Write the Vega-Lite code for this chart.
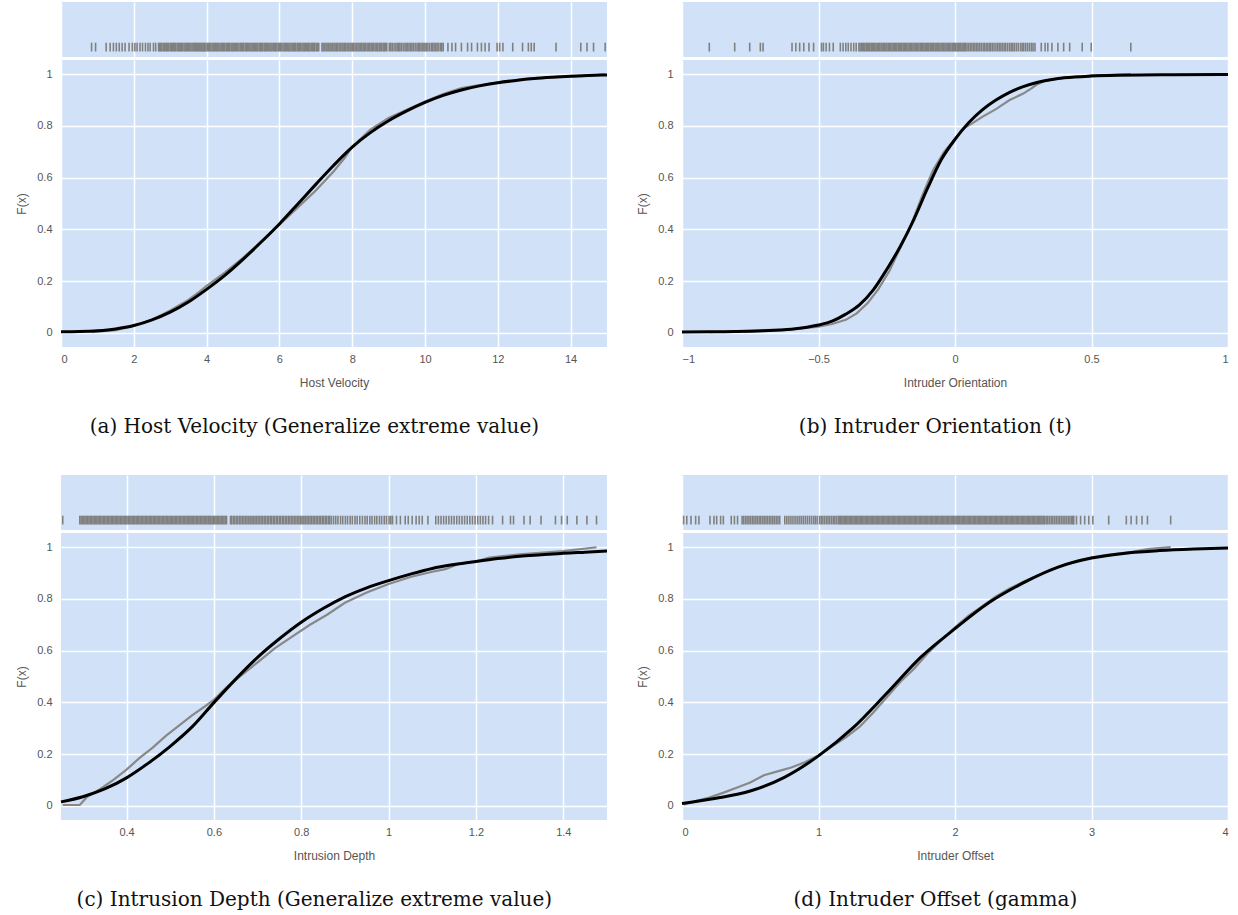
{
  "$schema": "https://vega.github.io/schema/vega-lite/v6.json",
  "background": "#ffffff",
  "padding": {"left": 15, "top": 2, "right": 5, "bottom": 2},
  "spacing": 38,
  "config": {
    "view": {"fill": "#D1E2F8", "stroke": null},
    "concat": {"spacing": 23},
    "axis": {"grid": true, "gridColor": "#ffffff", "gridWidth": 1.5, "domain": false, "ticks": false, "labelPadding": 9, "format": "~g", "labelFont": "Liberation Sans", "labelFontSize": 11, "labelColor": "#555555", "titleFont": "Liberation Sans", "titleFontSize": 12, "titleFontWeight": "normal", "titleColor": "#555555"},
    "axisX": {"labelPadding": 6},
    "title": {"font": "DejaVu Serif", "fontSize": 20, "fontWeight": "normal", "color": "#111111", "orient": "bottom", "offset": 29, "anchor": "middle"}
  },
  "datasets": {
    "rug": [
      {"p":"a","x":0.84},{"p":"a","x":0.95},{"p":"a","x":1.24},{"p":"a","x":1.35},{"p":"a","x":1.44},{"p":"a","x":1.52},{"p":"a","x":1.6},{"p":"a","x":1.68},{"p":"a","x":1.76},{"p":"a","x":1.87},{"p":"a","x":1.96},{"p":"a","x":2.03},{"p":"a","x":2.09},{"p":"a","x":2.17},{"p":"a","x":2.24},{"p":"a","x":2.32},{"p":"a","x":2.39},{"p":"a","x":2.45},{"p":"a","x":2.54},{"p":"a","x":2.6},
      {"p":"a","x":2.68},{"p":"a","x":2.74},{"p":"a","x":2.81},{"p":"a","x":2.88},{"p":"a","x":2.93},{"p":"a","x":3.0},{"p":"a","x":3.06},{"p":"a","x":3.12},{"p":"a","x":3.19},{"p":"a","x":3.25},{"p":"a","x":3.31},{"p":"a","x":3.38},{"p":"a","x":3.44},{"p":"a","x":3.5},{"p":"a","x":3.57},{"p":"a","x":3.63},{"p":"a","x":3.69},{"p":"a","x":3.75},{"p":"a","x":3.81},{"p":"a","x":3.87},
      {"p":"a","x":2.71},{"p":"a","x":2.77},{"p":"a","x":2.84},{"p":"a","x":2.9},{"p":"a","x":2.96},{"p":"a","x":3.03},{"p":"a","x":3.09},{"p":"a","x":3.15},{"p":"a","x":3.22},{"p":"a","x":3.28},{"p":"a","x":3.34},{"p":"a","x":3.41},{"p":"a","x":3.47},{"p":"a","x":3.53},{"p":"a","x":3.6},{"p":"a","x":3.66},{"p":"a","x":3.72},{"p":"a","x":3.78},{"p":"a","x":3.84},{"p":"a","x":3.9},
      {"p":"a","x":3.92},{"p":"a","x":3.98},{"p":"a","x":4.05},{"p":"a","x":4.11},{"p":"a","x":4.18},{"p":"a","x":4.24},{"p":"a","x":4.31},{"p":"a","x":4.37},{"p":"a","x":4.44},{"p":"a","x":4.5},{"p":"a","x":4.57},{"p":"a","x":4.63},{"p":"a","x":4.7},{"p":"a","x":4.76},{"p":"a","x":4.83},{"p":"a","x":4.89},{"p":"a","x":4.96},{"p":"a","x":5.02},{"p":"a","x":5.09},{"p":"a","x":5.15},{"p":"a","x":5.22},{"p":"a","x":5.28},{"p":"a","x":5.35},{"p":"a","x":5.41},{"p":"a","x":5.48},{"p":"a","x":5.54},{"p":"a","x":5.61},{"p":"a","x":5.67},{"p":"a","x":5.74},{"p":"a","x":5.8},{"p":"a","x":5.87},{"p":"a","x":5.93},{"p":"a","x":6.0},{"p":"a","x":6.06},{"p":"a","x":6.13},{"p":"a","x":6.19},{"p":"a","x":6.26},{"p":"a","x":6.32},{"p":"a","x":6.39},{"p":"a","x":6.45},{"p":"a","x":6.52},{"p":"a","x":6.58},{"p":"a","x":6.65},{"p":"a","x":6.71},{"p":"a","x":6.78},{"p":"a","x":6.84},{"p":"a","x":6.91},{"p":"a","x":6.97},{"p":"a","x":7.04},{"p":"a","x":7.08},
      {"p":"a","x":3.95},{"p":"a","x":4.02},{"p":"a","x":4.08},{"p":"a","x":4.15},{"p":"a","x":4.21},{"p":"a","x":4.28},{"p":"a","x":4.34},{"p":"a","x":4.41},{"p":"a","x":4.47},{"p":"a","x":4.54},{"p":"a","x":4.6},{"p":"a","x":4.67},{"p":"a","x":4.73},{"p":"a","x":4.8},{"p":"a","x":4.86},{"p":"a","x":4.93},{"p":"a","x":4.99},{"p":"a","x":5.06},{"p":"a","x":5.12},{"p":"a","x":5.19},{"p":"a","x":5.25},{"p":"a","x":5.32},{"p":"a","x":5.38},{"p":"a","x":5.45},{"p":"a","x":5.51},{"p":"a","x":5.58},{"p":"a","x":5.64},{"p":"a","x":5.71},{"p":"a","x":5.77},{"p":"a","x":5.84},{"p":"a","x":5.9},{"p":"a","x":5.97},{"p":"a","x":6.03},{"p":"a","x":6.1},{"p":"a","x":6.16},{"p":"a","x":6.23},{"p":"a","x":6.29},{"p":"a","x":6.36},{"p":"a","x":6.42},{"p":"a","x":6.49},{"p":"a","x":6.55},{"p":"a","x":6.62},{"p":"a","x":6.68},{"p":"a","x":6.75},{"p":"a","x":6.81},{"p":"a","x":6.88},{"p":"a","x":6.94},{"p":"a","x":7.01},
      {"p":"a","x":7.17},{"p":"a","x":7.24},{"p":"a","x":7.31},{"p":"a","x":7.39},{"p":"a","x":7.46},{"p":"a","x":7.53},{"p":"a","x":7.6},{"p":"a","x":7.68},{"p":"a","x":7.75},{"p":"a","x":7.82},{"p":"a","x":7.9},{"p":"a","x":7.97},{"p":"a","x":8.04},{"p":"a","x":8.12},{"p":"a","x":8.19},{"p":"a","x":8.26},{"p":"a","x":8.33},{"p":"a","x":8.41},{"p":"a","x":8.48},{"p":"a","x":8.55},{"p":"a","x":8.63},{"p":"a","x":8.7},{"p":"a","x":8.77},{"p":"a","x":8.85},{"p":"a","x":8.91},{"p":"a","x":8.95},
      {"p":"a","x":7.2},{"p":"a","x":7.28},{"p":"a","x":7.35},{"p":"a","x":7.42},{"p":"a","x":7.5},{"p":"a","x":7.57},{"p":"a","x":7.64},{"p":"a","x":7.72},{"p":"a","x":7.79},{"p":"a","x":7.86},{"p":"a","x":7.94},{"p":"a","x":8.01},{"p":"a","x":8.08},{"p":"a","x":8.16},{"p":"a","x":8.23},{"p":"a","x":8.3},{"p":"a","x":8.37},{"p":"a","x":8.45},{"p":"a","x":8.52},{"p":"a","x":8.59},{"p":"a","x":8.67},{"p":"a","x":8.74},{"p":"a","x":8.81},{"p":"a","x":8.88},
      {"p":"a","x":9.02},{"p":"a","x":9.1},{"p":"a","x":9.2},{"p":"a","x":9.28},{"p":"a","x":9.35},{"p":"a","x":9.45},{"p":"a","x":9.52},{"p":"a","x":9.6},{"p":"a","x":9.68},{"p":"a","x":9.78},{"p":"a","x":9.85},{"p":"a","x":9.93},{"p":"a","x":10.0},{"p":"a","x":10.08},{"p":"a","x":10.18},{"p":"a","x":10.25},{"p":"a","x":10.33},{"p":"a","x":10.42},{"p":"a","x":10.5},
      {"p":"a","x":9.06},{"p":"a","x":9.15},{"p":"a","x":9.24},{"p":"a","x":9.31},{"p":"a","x":9.4},{"p":"a","x":9.48},{"p":"a","x":9.56},{"p":"a","x":9.64},{"p":"a","x":9.73},{"p":"a","x":9.82},{"p":"a","x":9.89},{"p":"a","x":9.97},{"p":"a","x":10.04},{"p":"a","x":10.13},{"p":"a","x":10.21},{"p":"a","x":10.29},{"p":"a","x":10.37},{"p":"a","x":10.46},
      {"p":"a","x":10.63},{"p":"a","x":10.74},{"p":"a","x":10.84},{"p":"a","x":11.0},{"p":"a","x":11.17},{"p":"a","x":11.28},{"p":"a","x":11.44},{"p":"a","x":11.55},{"p":"a","x":11.65},{"p":"a","x":11.76},{"p":"a","x":11.98},{"p":"a","x":12.05},{"p":"a","x":12.14},{"p":"a","x":12.41},{"p":"a","x":12.68},{"p":"a","x":12.84},{"p":"a","x":12.92},{"p":"a","x":13.0},{"p":"a","x":13.6},{"p":"a","x":14.28},{"p":"a","x":14.45},{"p":"a","x":14.63},{"p":"a","x":14.95},

      {"p":"b","x":-0.9},{"p":"b","x":-0.807},{"p":"b","x":-0.752},{"p":"b","x":-0.713},{"p":"b","x":-0.703},{"p":"b","x":-0.597},{"p":"b","x":-0.583},{"p":"b","x":-0.569},{"p":"b","x":-0.554},{"p":"b","x":-0.535},{"p":"b","x":-0.518},{"p":"b","x":-0.489},{"p":"b","x":-0.482},{"p":"b","x":-0.472},{"p":"b","x":-0.46},{"p":"b","x":-0.446},{"p":"b","x":-0.42},{"p":"b","x":-0.41},{"p":"b","x":-0.4},{"p":"b","x":-0.391},{"p":"b","x":-0.381},{"p":"b","x":-0.371},{"p":"b","x":-0.362},
      {"p":"b","x":-0.352},{"p":"b","x":-0.343},{"p":"b","x":-0.334},{"p":"b","x":-0.325},{"p":"b","x":-0.316},{"p":"b","x":-0.307},{"p":"b","x":-0.298},{"p":"b","x":-0.289},{"p":"b","x":-0.28},{"p":"b","x":-0.271},{"p":"b","x":-0.262},{"p":"b","x":-0.253},{"p":"b","x":-0.244},{"p":"b","x":-0.235},{"p":"b","x":-0.226},{"p":"b","x":-0.217},{"p":"b","x":-0.208},{"p":"b","x":-0.199},{"p":"b","x":-0.19},{"p":"b","x":-0.181},{"p":"b","x":-0.172},{"p":"b","x":-0.163},{"p":"b","x":-0.154},{"p":"b","x":-0.145},{"p":"b","x":-0.136},{"p":"b","x":-0.127},{"p":"b","x":-0.118},{"p":"b","x":-0.109},{"p":"b","x":-0.1},{"p":"b","x":-0.091},{"p":"b","x":-0.082},{"p":"b","x":-0.073},{"p":"b","x":-0.064},{"p":"b","x":-0.055},{"p":"b","x":-0.046},{"p":"b","x":-0.037},{"p":"b","x":-0.028},{"p":"b","x":-0.019},{"p":"b","x":-0.01},{"p":"b","x":-0.001},{"p":"b","x":0.008},{"p":"b","x":0.017},{"p":"b","x":0.026},{"p":"b","x":0.035},{"p":"b","x":0.044},
      {"p":"b","x":-0.348},{"p":"b","x":-0.339},{"p":"b","x":-0.33},{"p":"b","x":-0.321},{"p":"b","x":-0.312},{"p":"b","x":-0.303},{"p":"b","x":-0.294},{"p":"b","x":-0.285},{"p":"b","x":-0.276},{"p":"b","x":-0.267},{"p":"b","x":-0.258},{"p":"b","x":-0.249},{"p":"b","x":-0.24},{"p":"b","x":-0.231},{"p":"b","x":-0.222},{"p":"b","x":-0.213},{"p":"b","x":-0.204},{"p":"b","x":-0.195},{"p":"b","x":-0.186},{"p":"b","x":-0.177},{"p":"b","x":-0.168},{"p":"b","x":-0.159},{"p":"b","x":-0.15},{"p":"b","x":-0.141},{"p":"b","x":-0.132},{"p":"b","x":-0.123},{"p":"b","x":-0.114},{"p":"b","x":-0.105},{"p":"b","x":-0.096},{"p":"b","x":-0.087},{"p":"b","x":-0.078},{"p":"b","x":-0.069},{"p":"b","x":-0.06},{"p":"b","x":-0.051},{"p":"b","x":-0.042},{"p":"b","x":-0.033},{"p":"b","x":-0.024},{"p":"b","x":-0.015},{"p":"b","x":-0.006},{"p":"b","x":0.003},{"p":"b","x":0.012},{"p":"b","x":0.021},{"p":"b","x":0.03},{"p":"b","x":0.039},
      {"p":"b","x":0.05},{"p":"b","x":0.056},{"p":"b","x":0.062},{"p":"b","x":0.068},{"p":"b","x":0.073},{"p":"b","x":0.079},{"p":"b","x":0.084},{"p":"b","x":0.09},{"p":"b","x":0.096},{"p":"b","x":0.103},{"p":"b","x":0.108},{"p":"b","x":0.114},{"p":"b","x":0.12},{"p":"b","x":0.126},{"p":"b","x":0.131},{"p":"b","x":0.137},{"p":"b","x":0.143},{"p":"b","x":0.15},{"p":"b","x":0.156},{"p":"b","x":0.162},{"p":"b","x":0.168},{"p":"b","x":0.174},
      {"p":"b","x":0.18},{"p":"b","x":0.186},{"p":"b","x":0.193},{"p":"b","x":0.2},{"p":"b","x":0.206},{"p":"b","x":0.212},{"p":"b","x":0.218},{"p":"b","x":0.225},{"p":"b","x":0.232},{"p":"b","x":0.24},{"p":"b","x":0.246},{"p":"b","x":0.252},{"p":"b","x":0.259},{"p":"b","x":0.266},{"p":"b","x":0.273},{"p":"b","x":0.28},{"p":"b","x":0.286},{"p":"b","x":0.293},
      {"p":"b","x":0.316},{"p":"b","x":0.33},{"p":"b","x":0.34},{"p":"b","x":0.355},{"p":"b","x":0.377},{"p":"b","x":0.398},{"p":"b","x":0.42},{"p":"b","x":0.466},{"p":"b","x":0.499},{"p":"b","x":0.644},

      {"p":"c","x":0.254},
      {"p":"c","x":0.293},{"p":"c","x":0.299},{"p":"c","x":0.305},{"p":"c","x":0.311},{"p":"c","x":0.317},{"p":"c","x":0.323},{"p":"c","x":0.329},{"p":"c","x":0.335},{"p":"c","x":0.341},{"p":"c","x":0.347},{"p":"c","x":0.353},{"p":"c","x":0.359},{"p":"c","x":0.365},{"p":"c","x":0.371},{"p":"c","x":0.377},{"p":"c","x":0.383},{"p":"c","x":0.389},{"p":"c","x":0.395},{"p":"c","x":0.401},{"p":"c","x":0.407},{"p":"c","x":0.413},{"p":"c","x":0.419},{"p":"c","x":0.425},{"p":"c","x":0.431},{"p":"c","x":0.437},{"p":"c","x":0.443},{"p":"c","x":0.449},{"p":"c","x":0.455},{"p":"c","x":0.461},{"p":"c","x":0.467},{"p":"c","x":0.473},{"p":"c","x":0.479},{"p":"c","x":0.485},{"p":"c","x":0.491},{"p":"c","x":0.497},{"p":"c","x":0.503},{"p":"c","x":0.509},{"p":"c","x":0.515},{"p":"c","x":0.521},{"p":"c","x":0.527},{"p":"c","x":0.533},{"p":"c","x":0.539},{"p":"c","x":0.545},{"p":"c","x":0.551},{"p":"c","x":0.557},{"p":"c","x":0.563},{"p":"c","x":0.569},{"p":"c","x":0.575},{"p":"c","x":0.581},{"p":"c","x":0.587},{"p":"c","x":0.593},{"p":"c","x":0.599},{"p":"c","x":0.605},{"p":"c","x":0.611},{"p":"c","x":0.617},{"p":"c","x":0.623},{"p":"c","x":0.629},
      {"p":"c","x":0.296},{"p":"c","x":0.302},{"p":"c","x":0.308},{"p":"c","x":0.314},{"p":"c","x":0.32},{"p":"c","x":0.326},{"p":"c","x":0.332},{"p":"c","x":0.338},{"p":"c","x":0.344},{"p":"c","x":0.35},{"p":"c","x":0.356},{"p":"c","x":0.362},{"p":"c","x":0.368},{"p":"c","x":0.374},{"p":"c","x":0.38},{"p":"c","x":0.386},{"p":"c","x":0.392},{"p":"c","x":0.398},{"p":"c","x":0.404},{"p":"c","x":0.41},{"p":"c","x":0.416},{"p":"c","x":0.422},{"p":"c","x":0.428},{"p":"c","x":0.434},{"p":"c","x":0.44},{"p":"c","x":0.446},{"p":"c","x":0.452},{"p":"c","x":0.458},{"p":"c","x":0.464},{"p":"c","x":0.47},{"p":"c","x":0.476},{"p":"c","x":0.482},{"p":"c","x":0.488},{"p":"c","x":0.494},{"p":"c","x":0.5},{"p":"c","x":0.506},{"p":"c","x":0.512},{"p":"c","x":0.518},{"p":"c","x":0.524},{"p":"c","x":0.53},{"p":"c","x":0.536},{"p":"c","x":0.542},{"p":"c","x":0.548},{"p":"c","x":0.554},{"p":"c","x":0.56},{"p":"c","x":0.566},{"p":"c","x":0.572},{"p":"c","x":0.578},{"p":"c","x":0.584},{"p":"c","x":0.59},{"p":"c","x":0.596},{"p":"c","x":0.602},{"p":"c","x":0.608},{"p":"c","x":0.614},{"p":"c","x":0.62},{"p":"c","x":0.626},
      {"p":"c","x":0.638},{"p":"c","x":0.645},{"p":"c","x":0.652},{"p":"c","x":0.659},{"p":"c","x":0.666},{"p":"c","x":0.673},{"p":"c","x":0.68},{"p":"c","x":0.687},{"p":"c","x":0.694},{"p":"c","x":0.701},{"p":"c","x":0.708},{"p":"c","x":0.715},{"p":"c","x":0.722},{"p":"c","x":0.729},{"p":"c","x":0.736},{"p":"c","x":0.743},{"p":"c","x":0.75},{"p":"c","x":0.757},{"p":"c","x":0.764},{"p":"c","x":0.771},{"p":"c","x":0.778},{"p":"c","x":0.785},{"p":"c","x":0.792},{"p":"c","x":0.799},{"p":"c","x":0.806},{"p":"c","x":0.813},{"p":"c","x":0.82},{"p":"c","x":0.827},{"p":"c","x":0.834},{"p":"c","x":0.841},{"p":"c","x":0.848},{"p":"c","x":0.855},{"p":"c","x":0.862},{"p":"c","x":0.869},
      {"p":"c","x":0.641},{"p":"c","x":0.648},{"p":"c","x":0.655},{"p":"c","x":0.662},{"p":"c","x":0.669},{"p":"c","x":0.676},{"p":"c","x":0.683},{"p":"c","x":0.69},{"p":"c","x":0.697},{"p":"c","x":0.704},{"p":"c","x":0.711},{"p":"c","x":0.718},{"p":"c","x":0.725},{"p":"c","x":0.732},{"p":"c","x":0.739},{"p":"c","x":0.746},{"p":"c","x":0.753},{"p":"c","x":0.76},{"p":"c","x":0.767},{"p":"c","x":0.774},{"p":"c","x":0.781},{"p":"c","x":0.788},{"p":"c","x":0.795},{"p":"c","x":0.802},{"p":"c","x":0.809},{"p":"c","x":0.816},{"p":"c","x":0.823},{"p":"c","x":0.83},{"p":"c","x":0.837},{"p":"c","x":0.844},{"p":"c","x":0.851},{"p":"c","x":0.858},{"p":"c","x":0.865},{"p":"c","x":0.874},
      {"p":"c","x":0.879},{"p":"c","x":0.89},{"p":"c","x":0.901},{"p":"c","x":0.912},{"p":"c","x":0.923},{"p":"c","x":0.934},{"p":"c","x":0.946},{"p":"c","x":0.957},{"p":"c","x":0.968},{"p":"c","x":0.979},{"p":"c","x":0.99},{"p":"c","x":1.001},{"p":"c","x":1.009},
      {"p":"c","x":0.884},{"p":"c","x":0.895},{"p":"c","x":0.906},{"p":"c","x":0.917},{"p":"c","x":0.928},{"p":"c","x":0.94},{"p":"c","x":0.951},{"p":"c","x":0.962},{"p":"c","x":0.973},{"p":"c","x":0.984},{"p":"c","x":0.995},{"p":"c","x":1.005},
      {"p":"c","x":1.018},{"p":"c","x":1.027},{"p":"c","x":1.038},{"p":"c","x":1.045},{"p":"c","x":1.054},{"p":"c","x":1.063},{"p":"c","x":1.07},{"p":"c","x":1.077},{"p":"c","x":1.09},
      {"p":"c","x":1.108},{"p":"c","x":1.12},{"p":"c","x":1.132},{"p":"c","x":1.144},{"p":"c","x":1.156},{"p":"c","x":1.168},{"p":"c","x":1.18},{"p":"c","x":1.192},{"p":"c","x":1.204},{"p":"c","x":1.216},{"p":"c","x":1.229},
      {"p":"c","x":1.114},{"p":"c","x":1.126},{"p":"c","x":1.138},{"p":"c","x":1.15},{"p":"c","x":1.162},{"p":"c","x":1.174},{"p":"c","x":1.186},{"p":"c","x":1.198},{"p":"c","x":1.21},{"p":"c","x":1.222},
      {"p":"c","x":1.238},{"p":"c","x":1.261},{"p":"c","x":1.279},{"p":"c","x":1.286},{"p":"c","x":1.31},{"p":"c","x":1.324},{"p":"c","x":1.349},{"p":"c","x":1.382},{"p":"c","x":1.396},{"p":"c","x":1.409},{"p":"c","x":1.431},{"p":"c","x":1.454},{"p":"c","x":1.476},

      {"p":"d","x":0.012},{"p":"d","x":0.035},{"p":"d","x":0.066},{"p":"d","x":0.1},{"p":"d","x":0.124},{"p":"d","x":0.205},{"p":"d","x":0.234},{"p":"d","x":0.254},{"p":"d","x":0.283},{"p":"d","x":0.303},{"p":"d","x":0.361},{"p":"d","x":0.384},{"p":"d","x":0.407},
      {"p":"d","x":0.44},{"p":"d","x":0.465},{"p":"d","x":0.49},{"p":"d","x":0.515},{"p":"d","x":0.54},{"p":"d","x":0.565},{"p":"d","x":0.59},{"p":"d","x":0.615},{"p":"d","x":0.64},{"p":"d","x":0.665},{"p":"d","x":0.69},{"p":"d","x":0.716},
      {"p":"d","x":0.452},{"p":"d","x":0.477},{"p":"d","x":0.502},{"p":"d","x":0.527},{"p":"d","x":0.552},{"p":"d","x":0.577},{"p":"d","x":0.602},{"p":"d","x":0.627},{"p":"d","x":0.652},{"p":"d","x":0.677},{"p":"d","x":0.703},
      {"p":"d","x":0.753},{"p":"d","x":0.783},{"p":"d","x":0.813},{"p":"d","x":0.843},{"p":"d","x":0.873},{"p":"d","x":0.903},{"p":"d","x":0.933},{"p":"d","x":0.963},{"p":"d","x":0.99},
      {"p":"d","x":0.768},{"p":"d","x":0.798},{"p":"d","x":0.828},{"p":"d","x":0.858},{"p":"d","x":0.888},{"p":"d","x":0.918},{"p":"d","x":0.948},{"p":"d","x":0.976},
      {"p":"d","x":1.02},{"p":"d","x":1.045},{"p":"d","x":1.07},{"p":"d","x":1.095},{"p":"d","x":1.12},{"p":"d","x":1.145},{"p":"d","x":1.163},
      {"p":"d","x":1.008},{"p":"d","x":1.032},{"p":"d","x":1.058},{"p":"d","x":1.082},{"p":"d","x":1.108},{"p":"d","x":1.132},{"p":"d","x":1.154},{"p":"d","x":1.171},
      {"p":"d","x":1.18},{"p":"d","x":1.198},{"p":"d","x":1.216},{"p":"d","x":1.234},{"p":"d","x":1.252},{"p":"d","x":1.27},{"p":"d","x":1.288},{"p":"d","x":1.306},{"p":"d","x":1.324},{"p":"d","x":1.342},{"p":"d","x":1.36},{"p":"d","x":1.378},{"p":"d","x":1.396},{"p":"d","x":1.414},{"p":"d","x":1.432},{"p":"d","x":1.45},{"p":"d","x":1.468},{"p":"d","x":1.486},{"p":"d","x":1.504},{"p":"d","x":1.522},{"p":"d","x":1.54},{"p":"d","x":1.558},{"p":"d","x":1.576},{"p":"d","x":1.594},{"p":"d","x":1.612},{"p":"d","x":1.63},{"p":"d","x":1.648},{"p":"d","x":1.666},{"p":"d","x":1.684},{"p":"d","x":1.702},{"p":"d","x":1.72},{"p":"d","x":1.738},{"p":"d","x":1.756},{"p":"d","x":1.774},{"p":"d","x":1.792},{"p":"d","x":1.81},{"p":"d","x":1.828},{"p":"d","x":1.846},{"p":"d","x":1.864},{"p":"d","x":1.882},{"p":"d","x":1.9},{"p":"d","x":1.918},{"p":"d","x":1.936},{"p":"d","x":1.954},{"p":"d","x":1.972},{"p":"d","x":1.99},{"p":"d","x":2.008},{"p":"d","x":2.026},{"p":"d","x":2.044},{"p":"d","x":2.062},{"p":"d","x":2.08},{"p":"d","x":2.098},{"p":"d","x":2.116},{"p":"d","x":2.134},{"p":"d","x":2.152},{"p":"d","x":2.17},{"p":"d","x":2.188},{"p":"d","x":2.206},{"p":"d","x":2.224},{"p":"d","x":2.242},{"p":"d","x":2.26},{"p":"d","x":2.278},{"p":"d","x":2.296},{"p":"d","x":2.314},{"p":"d","x":2.332},{"p":"d","x":2.35},{"p":"d","x":2.368},{"p":"d","x":2.386},{"p":"d","x":2.404},{"p":"d","x":2.422},{"p":"d","x":2.44},{"p":"d","x":2.458},{"p":"d","x":2.476},{"p":"d","x":2.494},{"p":"d","x":2.512},{"p":"d","x":2.53},{"p":"d","x":2.548},{"p":"d","x":2.566},{"p":"d","x":2.584},{"p":"d","x":2.602},{"p":"d","x":2.62},{"p":"d","x":2.638},{"p":"d","x":2.656},
      {"p":"d","x":1.189},{"p":"d","x":1.207},{"p":"d","x":1.225},{"p":"d","x":1.243},{"p":"d","x":1.261},{"p":"d","x":1.279},{"p":"d","x":1.297},{"p":"d","x":1.315},{"p":"d","x":1.333},{"p":"d","x":1.351},{"p":"d","x":1.369},{"p":"d","x":1.387},{"p":"d","x":1.405},{"p":"d","x":1.423},{"p":"d","x":1.441},{"p":"d","x":1.459},{"p":"d","x":1.477},{"p":"d","x":1.495},{"p":"d","x":1.513},{"p":"d","x":1.531},{"p":"d","x":1.549},{"p":"d","x":1.567},{"p":"d","x":1.585},{"p":"d","x":1.603},{"p":"d","x":1.621},{"p":"d","x":1.639},{"p":"d","x":1.657},{"p":"d","x":1.675},{"p":"d","x":1.693},{"p":"d","x":1.711},{"p":"d","x":1.729},{"p":"d","x":1.747},{"p":"d","x":1.765},{"p":"d","x":1.783},{"p":"d","x":1.801},{"p":"d","x":1.819},{"p":"d","x":1.837},{"p":"d","x":1.855},{"p":"d","x":1.873},{"p":"d","x":1.891},{"p":"d","x":1.909},{"p":"d","x":1.927},{"p":"d","x":1.945},{"p":"d","x":1.963},{"p":"d","x":1.981},{"p":"d","x":1.999},{"p":"d","x":2.017},{"p":"d","x":2.035},{"p":"d","x":2.053},{"p":"d","x":2.071},{"p":"d","x":2.089},{"p":"d","x":2.107},{"p":"d","x":2.125},{"p":"d","x":2.143},{"p":"d","x":2.161},{"p":"d","x":2.179},{"p":"d","x":2.197},{"p":"d","x":2.215},{"p":"d","x":2.233},{"p":"d","x":2.251},{"p":"d","x":2.269},{"p":"d","x":2.287},{"p":"d","x":2.305},{"p":"d","x":2.323},{"p":"d","x":2.341},{"p":"d","x":2.359},{"p":"d","x":2.377},{"p":"d","x":2.395},{"p":"d","x":2.413},{"p":"d","x":2.431},{"p":"d","x":2.449},{"p":"d","x":2.467},{"p":"d","x":2.485},{"p":"d","x":2.503},{"p":"d","x":2.521},{"p":"d","x":2.539},{"p":"d","x":2.557},{"p":"d","x":2.575},{"p":"d","x":2.593},{"p":"d","x":2.611},{"p":"d","x":2.629},{"p":"d","x":2.647},
      {"p":"d","x":2.668},{"p":"d","x":2.68},{"p":"d","x":2.692},{"p":"d","x":2.705},{"p":"d","x":2.717},{"p":"d","x":2.73},{"p":"d","x":2.742},{"p":"d","x":2.755},{"p":"d","x":2.767},{"p":"d","x":2.78},{"p":"d","x":2.792},{"p":"d","x":2.805},{"p":"d","x":2.817},{"p":"d","x":2.83},{"p":"d","x":2.842},{"p":"d","x":2.855},{"p":"d","x":2.862},{"p":"d","x":2.87},
      {"p":"d","x":2.89},{"p":"d","x":2.92},{"p":"d","x":2.95},{"p":"d","x":2.98},{"p":"d","x":3.01},{"p":"d","x":3.126},{"p":"d","x":3.255},{"p":"d","x":3.29},{"p":"d","x":3.33},{"p":"d","x":3.37},{"p":"d","x":3.41},{"p":"d","x":3.58}
    ],
    "ecdf": [
      {"p":"a","x":0.84,"F":0.002},{"p":"a","x":1.5,"F":0.01},{"p":"a","x":2.0,"F":0.026},{"p":"a","x":2.5,"F":0.05},{"p":"a","x":3.0,"F":0.086},{"p":"a","x":3.5,"F":0.127},{"p":"a","x":3.8,"F":0.158},{"p":"a","x":4.0,"F":0.181},{"p":"a","x":4.5,"F":0.233},{"p":"a","x":5.0,"F":0.29},{"p":"a","x":5.5,"F":0.353},{"p":"a","x":6.0,"F":0.418},{"p":"a","x":6.5,"F":0.484},{"p":"a","x":7.0,"F":0.55},{"p":"a","x":7.5,"F":0.626},{"p":"a","x":7.8,"F":0.678},{"p":"a","x":8.0,"F":0.72},{"p":"a","x":8.5,"F":0.786},{"p":"a","x":9.0,"F":0.831},{"p":"a","x":9.5,"F":0.863},{"p":"a","x":10.0,"F":0.894},{"p":"a","x":10.5,"F":0.923},{"p":"a","x":11.0,"F":0.946},{"p":"a","x":11.5,"F":0.958},{"p":"a","x":12.0,"F":0.968},{"p":"a","x":12.5,"F":0.977},{"p":"a","x":13.0,"F":0.985},{"p":"a","x":13.6,"F":0.99},{"p":"a","x":14.3,"F":0.993},{"p":"a","x":14.63,"F":0.996},{"p":"a","x":14.95,"F":1.0},
      {"p":"b","x":-0.9,"F":0.002},{"p":"b","x":-0.7,"F":0.01},{"p":"b","x":-0.6,"F":0.013},{"p":"b","x":-0.5,"F":0.024},{"p":"b","x":-0.45,"F":0.034},{"p":"b","x":-0.4,"F":0.05},{"p":"b","x":-0.36,"F":0.075},{"p":"b","x":-0.32,"F":0.115},{"p":"b","x":-0.28,"F":0.17},{"p":"b","x":-0.24,"F":0.24},{"p":"b","x":-0.2,"F":0.33},{"p":"b","x":-0.16,"F":0.42},{"p":"b","x":-0.12,"F":0.53},{"p":"b","x":-0.08,"F":0.63},{"p":"b","x":-0.04,"F":0.7},{"p":"b","x":0.0,"F":0.75},{"p":"b","x":0.03,"F":0.79},{"p":"b","x":0.06,"F":0.808},{"p":"b","x":0.1,"F":0.835},{"p":"b","x":0.15,"F":0.865},{"p":"b","x":0.2,"F":0.9},{"p":"b","x":0.25,"F":0.925},{"p":"b","x":0.28,"F":0.945},{"p":"b","x":0.3,"F":0.96},{"p":"b","x":0.33,"F":0.975},{"p":"b","x":0.4,"F":0.986},{"p":"b","x":0.5,"F":0.995},{"p":"b","x":0.644,"F":1.0},
      {"p":"c","x":0.254,"F":0.003},{"p":"c","x":0.293,"F":0.003},{"p":"c","x":0.31,"F":0.035},{"p":"c","x":0.34,"F":0.065},{"p":"c","x":0.37,"F":0.1},{"p":"c","x":0.4,"F":0.14},{"p":"c","x":0.43,"F":0.185},{"p":"c","x":0.46,"F":0.225},{"p":"c","x":0.49,"F":0.27},{"p":"c","x":0.52,"F":0.31},{"p":"c","x":0.55,"F":0.35},{"p":"c","x":0.58,"F":0.385},{"p":"c","x":0.6,"F":0.41},{"p":"c","x":0.63,"F":0.46},{"p":"c","x":0.66,"F":0.5},{"p":"c","x":0.7,"F":0.555},{"p":"c","x":0.74,"F":0.61},{"p":"c","x":0.78,"F":0.655},{"p":"c","x":0.82,"F":0.7},{"p":"c","x":0.86,"F":0.74},{"p":"c","x":0.9,"F":0.785},{"p":"c","x":0.95,"F":0.825},{"p":"c","x":1.0,"F":0.858},{"p":"c","x":1.05,"F":0.885},{"p":"c","x":1.1,"F":0.905},{"p":"c","x":1.13,"F":0.915},{"p":"c","x":1.16,"F":0.935},{"p":"c","x":1.2,"F":0.945},{"p":"c","x":1.23,"F":0.96},{"p":"c","x":1.3,"F":0.972},{"p":"c","x":1.4,"F":0.985},{"p":"c","x":1.476,"F":1.0},
      {"p":"d","x":0.012,"F":0.005},{"p":"d","x":0.1,"F":0.018},{"p":"d","x":0.2,"F":0.032},{"p":"d","x":0.3,"F":0.05},{"p":"d","x":0.4,"F":0.07},{"p":"d","x":0.5,"F":0.09},{"p":"d","x":0.6,"F":0.118},{"p":"d","x":0.7,"F":0.133},{"p":"d","x":0.8,"F":0.148},{"p":"d","x":0.9,"F":0.168},{"p":"d","x":1.0,"F":0.195},{"p":"d","x":1.1,"F":0.23},{"p":"d","x":1.2,"F":0.265},{"p":"d","x":1.3,"F":0.305},{"p":"d","x":1.4,"F":0.36},{"p":"d","x":1.5,"F":0.42},{"p":"d","x":1.6,"F":0.48},{"p":"d","x":1.7,"F":0.53},{"p":"d","x":1.8,"F":0.59},{"p":"d","x":1.9,"F":0.64},{"p":"d","x":2.0,"F":0.69},{"p":"d","x":2.1,"F":0.735},{"p":"d","x":2.2,"F":0.772},{"p":"d","x":2.3,"F":0.81},{"p":"d","x":2.4,"F":0.84},{"p":"d","x":2.5,"F":0.866},{"p":"d","x":2.6,"F":0.89},{"p":"d","x":2.7,"F":0.91},{"p":"d","x":2.8,"F":0.932},{"p":"d","x":2.9,"F":0.948},{"p":"d","x":3.0,"F":0.96},{"p":"d","x":3.1,"F":0.97},{"p":"d","x":3.3,"F":0.982},{"p":"d","x":3.41,"F":0.993},{"p":"d","x":3.58,"F":1.0}
    ],
    "fit": [
      {"p":"a","x":0,"F":0.004},{"p":"a","x":0.5,"F":0.005},{"p":"a","x":1,"F":0.008},{"p":"a","x":1.5,"F":0.015},{"p":"a","x":2,"F":0.028},{"p":"a","x":2.5,"F":0.05},{"p":"a","x":3,"F":0.08},{"p":"a","x":3.5,"F":0.119},{"p":"a","x":4,"F":0.168},{"p":"a","x":4.5,"F":0.222},{"p":"a","x":5,"F":0.284},{"p":"a","x":5.5,"F":0.351},{"p":"a","x":6,"F":0.421},{"p":"a","x":6.5,"F":0.497},{"p":"a","x":7,"F":0.574},{"p":"a","x":7.5,"F":0.649},{"p":"a","x":8,"F":0.718},{"p":"a","x":8.5,"F":0.774},{"p":"a","x":9,"F":0.82},{"p":"a","x":9.5,"F":0.858},{"p":"a","x":10,"F":0.891},{"p":"a","x":10.5,"F":0.918},{"p":"a","x":11,"F":0.939},{"p":"a","x":11.5,"F":0.955},{"p":"a","x":12,"F":0.967},{"p":"a","x":12.5,"F":0.976},{"p":"a","x":13,"F":0.983},{"p":"a","x":13.5,"F":0.988},{"p":"a","x":14,"F":0.992},{"p":"a","x":14.5,"F":0.995},{"p":"a","x":15,"F":0.997},
      {"p":"b","x":-1,"F":0.003},{"p":"b","x":-0.9,"F":0.004},{"p":"b","x":-0.8,"F":0.005},{"p":"b","x":-0.7,"F":0.008},{"p":"b","x":-0.6,"F":0.014},{"p":"b","x":-0.5,"F":0.03},{"p":"b","x":-0.45,"F":0.045},{"p":"b","x":-0.4,"F":0.072},{"p":"b","x":-0.35,"F":0.108},{"p":"b","x":-0.3,"F":0.165},{"p":"b","x":-0.25,"F":0.245},{"p":"b","x":-0.2,"F":0.335},{"p":"b","x":-0.15,"F":0.44},{"p":"b","x":-0.1,"F":0.56},{"p":"b","x":-0.05,"F":0.67},{"p":"b","x":0,"F":0.748},{"p":"b","x":0.05,"F":0.812},{"p":"b","x":0.1,"F":0.862},{"p":"b","x":0.15,"F":0.9},{"p":"b","x":0.2,"F":0.93},{"p":"b","x":0.25,"F":0.952},{"p":"b","x":0.3,"F":0.968},{"p":"b","x":0.35,"F":0.979},{"p":"b","x":0.4,"F":0.986},{"p":"b","x":0.5,"F":0.993},{"p":"b","x":0.6,"F":0.996},{"p":"b","x":0.8,"F":0.998},{"p":"b","x":1,"F":0.999},
      {"p":"c","x":0.25,"F":0.015},{"p":"c","x":0.3,"F":0.035},{"p":"c","x":0.35,"F":0.065},{"p":"c","x":0.4,"F":0.108},{"p":"c","x":0.45,"F":0.165},{"p":"c","x":0.5,"F":0.23},{"p":"c","x":0.55,"F":0.305},{"p":"c","x":0.6,"F":0.399},{"p":"c","x":0.65,"F":0.49},{"p":"c","x":0.7,"F":0.574},{"p":"c","x":0.75,"F":0.646},{"p":"c","x":0.8,"F":0.71},{"p":"c","x":0.85,"F":0.763},{"p":"c","x":0.9,"F":0.808},{"p":"c","x":0.95,"F":0.843},{"p":"c","x":1.0,"F":0.871},{"p":"c","x":1.05,"F":0.896},{"p":"c","x":1.1,"F":0.918},{"p":"c","x":1.15,"F":0.933},{"p":"c","x":1.2,"F":0.945},{"p":"c","x":1.25,"F":0.956},{"p":"c","x":1.3,"F":0.965},{"p":"c","x":1.35,"F":0.971},{"p":"c","x":1.4,"F":0.977},{"p":"c","x":1.45,"F":0.981},{"p":"c","x":1.5,"F":0.985},
      {"p":"d","x":0,"F":0.009},{"p":"d","x":0.25,"F":0.029},{"p":"d","x":0.5,"F":0.057},{"p":"d","x":0.75,"F":0.11},{"p":"d","x":1.0,"F":0.193},{"p":"d","x":1.25,"F":0.3},{"p":"d","x":1.5,"F":0.435},{"p":"d","x":1.75,"F":0.575},{"p":"d","x":2.0,"F":0.685},{"p":"d","x":2.25,"F":0.786},{"p":"d","x":2.5,"F":0.862},{"p":"d","x":2.75,"F":0.922},{"p":"d","x":3.0,"F":0.958},{"p":"d","x":3.25,"F":0.977},{"p":"d","x":3.5,"F":0.987},{"p":"d","x":3.75,"F":0.993},{"p":"d","x":4.0,"F":0.997}
    ]
  },
  "vconcat": [
    {
      "hconcat": [
        {
          "title": "(a) Host Velocity (Generalize extreme value)",
          "spacing": 3,
          "vconcat": [
            {"width": 546, "height": 55, "data": {"name": "rug"}, "transform": [{"filter": "datum.p == 'a'"}],
             "mark": {"type": "rule", "color": "#808080", "strokeWidth": 1.6},
             "encoding": {"x": {"field": "x", "type": "quantitative", "scale": {"domain": [0, 15], "nice": false, "zero": false}, "axis": {"values": [0,2,4,6,8,10,12,14], "labels": false, "title": null}},
                          "y": {"datum": 0.1, "type": "quantitative", "scale": {"domain": [0, 1]}, "axis": null}, "y2": {"datum": 0.26}}},
            {"width": 546, "height": 287,
             "encoding": {"x": {"field": "x", "type": "quantitative", "scale": {"domain": [0, 15], "nice": false, "zero": false}, "axis": {"values": [0,2,4,6,8,10,12,14], "title": "Host Velocity", "titlePadding": 13}},
                          "y": {"field": "F", "type": "quantitative", "scale": {"domain": [-0.055, 1.055], "nice": false}, "axis": {"values": [0,0.2,0.4,0.6,0.8,1], "title": "F(x)", "titlePadding": 8}}},
             "layer": [
               {"data": {"name": "ecdf"}, "transform": [{"filter": "datum.p == 'a'"}], "mark": {"type": "line", "color": "#888888", "strokeWidth": 2.2}},
               {"data": {"name": "fit"}, "transform": [{"filter": "datum.p == 'a'"}], "mark": {"type": "line", "color": "#000000", "strokeWidth": 3, "interpolate": "monotone"}}
             ]}
          ]
        },
        {
          "title": "(b) Intruder Orientation (t)",
          "spacing": 3,
          "vconcat": [
            {"width": 546, "height": 55, "data": {"name": "rug"}, "transform": [{"filter": "datum.p == 'b'"}],
             "mark": {"type": "rule", "color": "#808080", "strokeWidth": 1.6},
             "encoding": {"x": {"field": "x", "type": "quantitative", "scale": {"domain": [-1, 1], "nice": false, "zero": false}, "axis": {"values": [-1,-0.5,0,0.5,1], "labels": false, "title": null}},
                          "y": {"datum": 0.1, "type": "quantitative", "scale": {"domain": [0, 1]}, "axis": null}, "y2": {"datum": 0.26}}},
            {"width": 546, "height": 287,
             "encoding": {"x": {"field": "x", "type": "quantitative", "scale": {"domain": [-1, 1], "nice": false, "zero": false}, "axis": {"values": [-1,-0.5,0,0.5,1], "title": "Intruder Orientation", "titlePadding": 13}},
                          "y": {"field": "F", "type": "quantitative", "scale": {"domain": [-0.055, 1.055], "nice": false}, "axis": {"values": [0,0.2,0.4,0.6,0.8,1], "title": "F(x)", "titlePadding": 8}}},
             "layer": [
               {"data": {"name": "ecdf"}, "transform": [{"filter": "datum.p == 'b'"}], "mark": {"type": "line", "color": "#888888", "strokeWidth": 2.2}},
               {"data": {"name": "fit"}, "transform": [{"filter": "datum.p == 'b'"}], "mark": {"type": "line", "color": "#000000", "strokeWidth": 3, "interpolate": "monotone"}}
             ]}
          ]
        }
      ]
    },
    {
      "hconcat": [
        {
          "title": "(c) Intrusion Depth (Generalize extreme value)",
          "spacing": 3,
          "vconcat": [
            {"width": 546, "height": 55, "data": {"name": "rug"}, "transform": [{"filter": "datum.p == 'c'"}],
             "mark": {"type": "rule", "color": "#808080", "strokeWidth": 1.6},
             "encoding": {"x": {"field": "x", "type": "quantitative", "scale": {"domain": [0.25, 1.5], "nice": false, "zero": false}, "axis": {"values": [0.4,0.6,0.8,1,1.2,1.4], "labels": false, "title": null}},
                          "y": {"datum": 0.1, "type": "quantitative", "scale": {"domain": [0, 1]}, "axis": null}, "y2": {"datum": 0.26}}},
            {"width": 546, "height": 287,
             "encoding": {"x": {"field": "x", "type": "quantitative", "scale": {"domain": [0.25, 1.5], "nice": false, "zero": false}, "axis": {"values": [0.4,0.6,0.8,1,1.2,1.4], "title": "Intrusion Depth", "titlePadding": 13}},
                          "y": {"field": "F", "type": "quantitative", "scale": {"domain": [-0.055, 1.055], "nice": false}, "axis": {"values": [0,0.2,0.4,0.6,0.8,1], "title": "F(x)", "titlePadding": 8}}},
             "layer": [
               {"data": {"name": "ecdf"}, "transform": [{"filter": "datum.p == 'c'"}], "mark": {"type": "line", "color": "#888888", "strokeWidth": 2.2}},
               {"data": {"name": "fit"}, "transform": [{"filter": "datum.p == 'c'"}], "mark": {"type": "line", "color": "#000000", "strokeWidth": 3, "interpolate": "monotone"}}
             ]}
          ]
        },
        {
          "title": "(d) Intruder Offset (gamma)",
          "spacing": 3,
          "vconcat": [
            {"width": 546, "height": 55, "data": {"name": "rug"}, "transform": [{"filter": "datum.p == 'd'"}],
             "mark": {"type": "rule", "color": "#808080", "strokeWidth": 1.6},
             "encoding": {"x": {"field": "x", "type": "quantitative", "scale": {"domain": [0, 4], "nice": false, "zero": false}, "axis": {"values": [0,1,2,3,4], "labels": false, "title": null}},
                          "y": {"datum": 0.1, "type": "quantitative", "scale": {"domain": [0, 1]}, "axis": null}, "y2": {"datum": 0.26}}},
            {"width": 546, "height": 287,
             "encoding": {"x": {"field": "x", "type": "quantitative", "scale": {"domain": [0, 4], "nice": false, "zero": false}, "axis": {"values": [0,1,2,3,4], "title": "Intruder Offset", "titlePadding": 13}},
                          "y": {"field": "F", "type": "quantitative", "scale": {"domain": [-0.055, 1.055], "nice": false}, "axis": {"values": [0,0.2,0.4,0.6,0.8,1], "title": "F(x)", "titlePadding": 8}}},
             "layer": [
               {"data": {"name": "ecdf"}, "transform": [{"filter": "datum.p == 'd'"}], "mark": {"type": "line", "color": "#888888", "strokeWidth": 2.2}},
               {"data": {"name": "fit"}, "transform": [{"filter": "datum.p == 'd'"}], "mark": {"type": "line", "color": "#000000", "strokeWidth": 3, "interpolate": "monotone"}}
             ]}
          ]
        }
      ]
    }
  ]
}
